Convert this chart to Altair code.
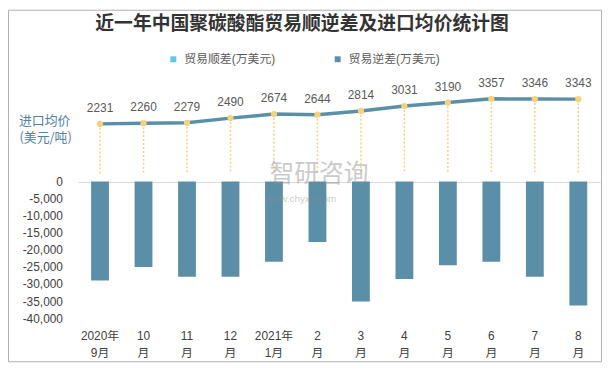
import altair as alt
import pandas as pd

# ---------------- data ----------------
months = ["2020年\n9月", "10\n月", "11\n月", "12\n月", "2021年\n1月", "2\n月",
          "3\n月", "4\n月", "5\n月", "6\n月", "7\n月", "8\n月"]
trade_deficit = [-29000, -25000, -27900, -27900, -23500, -17700,
                 -35100, -28500, -24500, -23500, -27900, -36300]
import_price = [2231, 2260, 2279, 2490, 2674, 2644, 2814, 3031, 3190, 3357, 3346, 3343]
series_names = ["贸易顺差(万美元)", "贸易逆差(万美元)"]
bar_ticks = [0, -5000, -10000, -15000, -20000, -25000, -30000, -35000, -40000]
title_text = "近一年中国聚碳酸酯贸易顺逆差及进口均价统计图"
price_label = ["进口均价", "(美元/吨)"]

FONT = "Liberation Sans, Noto Sans CJK SC"
CJK = "Noto Sans CJK SC"
BAR_COLOR = "#5B8FA8"
GOLD = "#F7D27C"

df = pd.DataFrame({
    "month": months,
    "deficit": trade_deficit,
    "price": import_price,
    "series": series_names[1],
    "base": 0,
})
one = pd.DataFrame({"a": [0]})

x_enc = alt.X(
    "month:N", sort=months,
    scale=alt.Scale(paddingInner=0.59, paddingOuter=0.295),
    axis=alt.Axis(title=None, labelAngle=0, domain=False, ticks=False,
                  labelExpr="split(datum.label, '\\n')", labelPadding=12,
                  labelLineHeight=17, labelFontSize=12, labelColor="#404040",
                  labelFont=FONT, labelBaseline="top"),
)

# ---------------- bars (trade balance) ----------------
bar_scale = alt.Scale(domain=[-40000, 0], range=[279.5, 141.5])
bar_axis = alt.Axis(values=bar_ticks,
                    labelExpr="replace(format(datum.value, ',d'), '\u2212', '-')",
                    title=None, domain=False, ticks=False, grid=True,
                    gridColor=alt.condition("datum.value == 0", alt.value("#d9d9d9"),
                                            alt.value("transparent")),
                    labelPadding=16, labelFontSize=12,
                    labelColor="#404040", labelFont=FONT, labelOverlap=False)
bars = alt.Chart(df).mark_bar().encode(
    x=x_enc,
    y=alt.Y("deficit:Q", scale=bar_scale, axis=bar_axis),
    color=alt.Color("series:N",
                    scale=alt.Scale(domain=series_names, range=["#5CC8F2", BAR_COLOR]),
                    legend=alt.Legend(title=None, orient="none", legendX=90, legendY=12,
                                      direction="horizontal", symbolType="square",
                                      symbolSize=36, symbolStrokeWidth=0,
                                      labelFontSize=12, labelFont=FONT,
                                      labelColor="#595959", columnPadding=57,
                                      labelOffset=5, padding=0)),
)

# ---------------- line (import price) ----------------
line_scale = alt.Scale(domain=[0, 4000], range=[133.4, 43.5])
y_price = alt.Y("price:Q", scale=line_scale, axis=None)
drops = alt.Chart(df).mark_rule(color=GOLD, strokeDash=[2, 2], strokeWidth=1.5).encode(
    x=x_enc, y=y_price, y2="base:Q")
line = alt.Chart(df).mark_line(color=BAR_COLOR, strokeWidth=3.5).encode(x=x_enc, y=y_price)
points = alt.Chart(df).mark_circle(color=GOLD, size=40, opacity=1).encode(x=x_enc, y=y_price)
labels = alt.Chart(df).mark_text(dy=-16, fontSize=12, color="#595959", font=FONT,
                                 baseline="middle").encode(
    x=x_enc, y=y_price, text=alt.Text("price:Q", format="d"))
line_layer = alt.layer(drops, line, points, labels)

# ---------------- decorations ----------------
frame = alt.Chart(one).mark_rect(fill="transparent", stroke="#b0b0b0", strokeWidth=1).encode(
    x=alt.value(-70.5), x2=alt.value(528.5), y=alt.value(-31.5), y2=alt.value(323.5))
title = alt.Chart(one).mark_text(text=title_text, fontSize=19, fontWeight="bold", font=CJK,
                                 color="#333333", baseline="middle", align="center").encode(
    x=alt.value(226), y=alt.value(-18))
plabel1 = alt.Chart(one).mark_text(text=price_label[0], fontSize=13, font=CJK, color="#4F83A3",
                                   baseline="middle", align="center").encode(
    x=alt.value(-34), y=alt.value(80))
plabel2 = alt.Chart(one).mark_text(text=price_label[1], fontSize=13, font=CJK, color="#4F83A3",
                                   baseline="middle", align="center").encode(
    x=alt.value(-33), y=alt.value(98))
wm1 = alt.Chart(one).mark_text(text="智研咨询", fontSize=25, font=CJK, color="#8c8c8c",
                               opacity=0.45, baseline="middle", align="center").encode(
    x=alt.value(243), y=alt.value(134))
wm2 = alt.Chart(one).mark_text(text="www.chyxx.com", fontSize=10, font=FONT, color="#8c8c8c",
                               opacity=0.45, baseline="middle", align="center").encode(
    x=alt.value(225), y=alt.value(159))

chart = alt.layer(
    frame, title, plabel1, plabel2, bars, line_layer, wm1, wm2
).resolve_scale(y="independent").properties(
    width=527, height=280,
    padding={"left": 71, "top": 32, "right": 6, "bottom": 44},
    autosize=alt.AutoSizeParams(type="none"),
).configure_view(stroke=None)

chart.save("out.html", embed_options={"renderer": "svg", "actions": False})
